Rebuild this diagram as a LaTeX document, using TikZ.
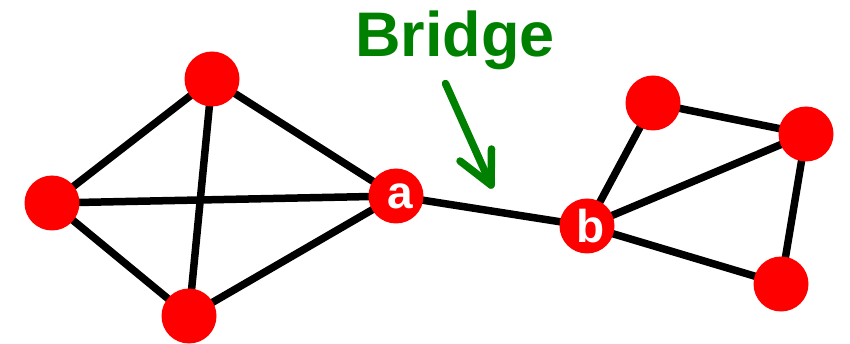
\documentclass[tikz,border=0pt]{standalone}
\usepackage{fontspec}
\setmainfont{Liberation Sans}
\usetikzlibrary{backgrounds}
\definecolor{bridgegreen}{RGB}{0,128,0}
\definecolor{nodered}{RGB}{255,0,0}
\tikzset{
  vtx/.style={circle, fill=nodered, minimum size=55pt, inner sep=0pt, text=white, font=\bfseries\fontsize{46}{46}\selectfont},
  edge/.style={line width=7.5pt, black},
  greenarrow/.style={line width=7.5pt, bridgegreen, line cap=round, line join=round},
}
\begin{document}
\begin{tikzpicture}[x=1pt,y=-1pt]
\useasboundingbox (0,0) rectangle (850,344);
% left cluster
\node[vtx] (t) at (212,79) {};
\node[vtx] (l) at (52,203) {};
\node[vtx] (bl) at (189,316) {};
\node[vtx] (a) at (396,196) {\hspace{8pt}a};
% right cluster
\node[vtx] (b) at (587,226) {\hspace{8pt}b};
\node[vtx] (tr) at (653,103) {};
\node[vtx] (r) at (806,134) {};
\node[vtx] (br) at (781,284) {};
\begin{scope}[on background layer]
\draw[edge] (t.center) -- (l.center);
\draw[edge] (t.center) -- (bl.center);
\draw[edge] (t.center) -- (a.center);
\draw[edge] (l.center) -- (a.center);
\draw[edge] (l.center) -- (bl.center);
\draw[edge] (bl.center) -- (a.center);
\draw[edge] (a.center) -- (b.center);
\draw[edge] (b.center) -- (tr.center);
\draw[edge] (b.center) -- (r.center);
\draw[edge] (b.center) -- (br.center);
\draw[edge] (tr.center) -- (r.center);
\draw[edge] (r.center) -- (br.center);
\end{scope}
% label and arrow
\node[anchor=base west, inner sep=0pt, text=bridgegreen, font=\bfseries\fontsize{63}{63}\selectfont] (lbl) at (355,57) {Bridge};
\coordinate (as) at (445.5,83.5);
\coordinate (at) at (491,185);
\coordinate (al) at (460,161);
\coordinate (ar) at (491.5,149);
\draw[greenarrow] (as) -- (at);
\draw[greenarrow] (al) -- (at) -- (ar);
\end{tikzpicture}
\end{document}
